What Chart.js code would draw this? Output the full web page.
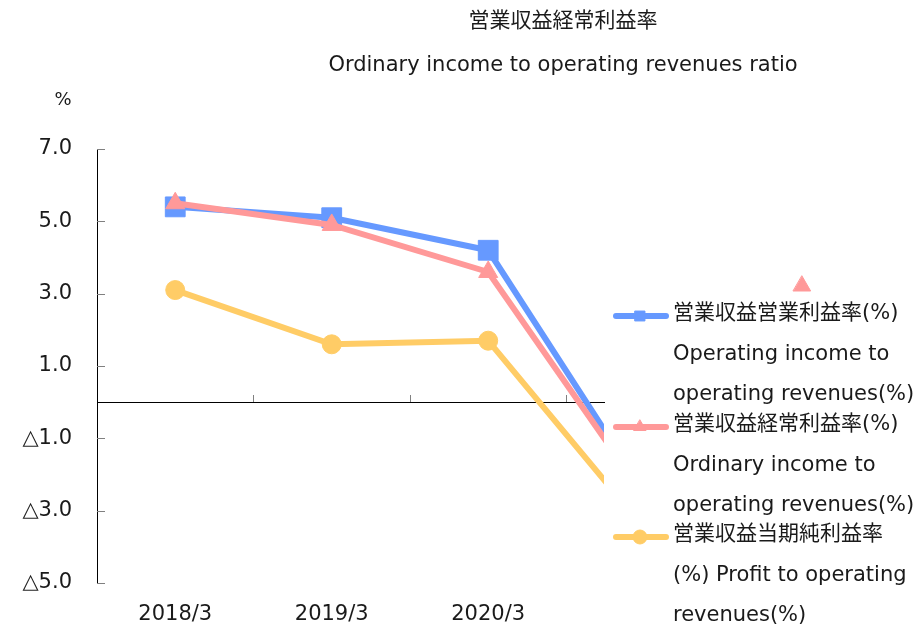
<!DOCTYPE html>
<html>
<head>
<meta charset="utf-8">
<script src="https://cdn.jsdelivr.net/npm/chart.js@4.4.1/dist/chart.umd.min.js"></script>
<style>
  body { margin: 0; background: #fff; }
  #wrap { width: 917px; height: 628px; }
</style>
</head>
<body>
<div id="wrap"><canvas id="ratioChart" width="917" height="628"></canvas></div>
<script>
const categories = ['2018/3', '2019/3', '2020/3', '2021/3'];
const operatingRatio = [5.4, 5.1, 4.2, -2.5];
const ordinaryRatio = [5.5, 4.9, 3.6, -2.6];
const profitRatio = [3.1, 1.6, 1.7, -3.5];
const yTickValues = [-5, -3, -1, 1, 3, 5, 7];
const yTickLabels = ['△5.0', '△3.0', '△1.0', '1.0', '3.0', '5.0', '7.0'];
const titleLines = ['営業収益経常利益率', 'Ordinary income to operating revenues ratio'];
const seriesNames = [
  ['営業収益営業利益率(%)', 'Operating income to', 'operating revenues(%)'],
  ['営業収益経常利益率(%)', 'Ordinary income to', 'operating revenues(%)'],
  ['営業収益当期純利益率', '(%) Profit to operating', 'revenues(%)']
];
const unitLabel = '%';

const FONT = "'DejaVu Sans', 'Noto Sans CJK JP', sans-serif";
const TEXT = '#1a1a1a';
// the plot is cut off before the last year, like the original
const X_MIN = 0.5, X_MAX = 3.74;

const toPoints = arr => arr.map((v, i) => ({ x: i + 1, y: v }));

function series(label, data, color, style, radius, order) {
  return {
    label: label,
    data: toPoints(data),
    order: order,
    borderColor: color,
    backgroundColor: color,
    borderWidth: 6,
    pointStyle: style,
    pointRadius: radius,
    pointHoverRadius: radius,
    pointBorderWidth: 1,
    pointBackgroundColor: color,
    pointBorderColor: color,
    tension: 0,
    clip: 0
  };
}

// axis ticks, titles and the legend
const decor = {
  id: 'decor',
  afterDraw(chart) {
    const ctx = chart.ctx;
    const area = chart.chartArea;
    const xs = chart.scales.x, ys = chart.scales.y;
    ctx.save();

    ctx.strokeStyle = '#808080';
    ctx.lineWidth = 1;
    yTickValues.forEach(v => {
      const py = Math.round(ys.getPixelForValue(v)) + 0.5;
      ctx.beginPath();
      ctx.moveTo(area.left, py);
      ctx.lineTo(area.left + 8, py);
      ctx.stroke();
    });
    const zeroY = Math.round(ys.getPixelForValue(0));
    categories.forEach((c, i) => {
      const v = i + 1.5;
      if (v > X_MAX) return;
      const px = Math.round(xs.getPixelForValue(v)) + 0.5;
      ctx.beginPath();
      ctx.moveTo(px, zeroY);
      ctx.lineTo(px, zeroY - 7);
      ctx.stroke();
    });

    ctx.fillStyle = TEXT;
    ctx.textAlign = 'center';
    ctx.textBaseline = 'middle';
    ctx.font = '21px ' + FONT;
    ctx.fillText(titleLines[0], 563, 22);
    ctx.fillText(titleLines[1], 563, 66);
    ctx.font = '18px ' + FONT;
    ctx.fillText(unitLabel, 63, 100);

    // legend
    const itemY = [316, 427, 537];
    ctx.textAlign = 'left';
    ctx.font = '21px ' + FONT;
    chart.data.datasets.forEach((ds, i) => {
      const y = itemY[i];
      ctx.strokeStyle = ds.borderColor;
      ctx.lineWidth = 6;
      ctx.lineCap = 'round';
      ctx.beginPath();
      ctx.moveTo(616, y);
      ctx.lineTo(666, y);
      ctx.stroke();
      ctx.fillStyle = ds.borderColor;
      ctx.lineWidth = 1;
      Chart.helpers.drawPoint(ctx, { pointStyle: ds.pointStyle, radius: 7, borderWidth: 1 }, 640, y);
      ctx.fillStyle = TEXT;
      seriesNames[i].forEach((t, k) => {
        ctx.fillText(t, 673, y - 2 + k * 40.5);
      });
    });
    // stray marker left over from the original legend
    const pink = chart.data.datasets[1];
    ctx.fillStyle = pink.borderColor;
    ctx.strokeStyle = pink.borderColor;
    ctx.lineWidth = 1;
    Chart.helpers.drawPoint(ctx, { pointStyle: 'triangle', radius: 10, borderWidth: 1 }, 802, 286);

    ctx.restore();
  }
};

new Chart(document.getElementById('ratioChart'), {
  type: 'line',
  data: {
    datasets: [
      series(seriesNames[0].join(' '), operatingRatio, '#6699ff', 'rect', 14, 2),
      series(seriesNames[1].join(' '), ordinaryRatio, '#ff9999', 'triangle', 11, 1),
      series(seriesNames[2].join(' '), profitRatio, '#ffcc66', 'circle', 9.5, 3)
    ]
  },
  options: {
    responsive: false,
    animation: false,
    layout: { padding: { top: 149, right: 313, left: 0, bottom: 0 } },
    plugins: {
      legend: { display: false },
      title: { display: false },
      tooltip: { enabled: false }
    },
    scales: {
      x: {
        type: 'linear',
        min: X_MIN,
        max: X_MAX,
        position: { y: 0 },
        afterBuildTicks: s => { s.ticks = categories.map((c, i) => ({ value: i + 0.5 })).filter(t => t.value <= X_MAX); },
        grid: { display: false },
        border: { display: true, color: '#000', width: 1 },
        ticks: { display: false }
      },
      xLabels: {
        type: 'linear',
        axis: 'x',
        position: 'bottom',
        min: X_MIN,
        max: X_MAX,
        afterBuildTicks: s => { s.ticks = categories.map((c, i) => ({ value: i + 1 })).filter(t => t.value <= X_MAX); },
        afterFit: s => { s.height = 45; },
        grid: { display: false, drawTicks: false },
        border: { display: false },
        ticks: {
          padding: 19,
          autoSkip: false,
          maxRotation: 0,
          color: TEXT,
          font: { family: FONT, size: 21 },
          callback: v => categories[v - 1]
        }
      },
      y: {
        min: -5,
        max: 7,
        afterBuildTicks: s => { s.ticks = yTickValues.map(v => ({ value: v })); },
        afterFit: s => { s.width = 97; },
        grid: { display: false, drawTicks: false },
        border: { display: true, color: '#000', width: 1 },
        ticks: {
          padding: 25,
          color: TEXT,
          font: { family: FONT, size: 21 },
          callback: v => yTickLabels[yTickValues.indexOf(v)]
        }
      }
    }
  },
  plugins: [decor]
});
</script>
</body>
</html>
